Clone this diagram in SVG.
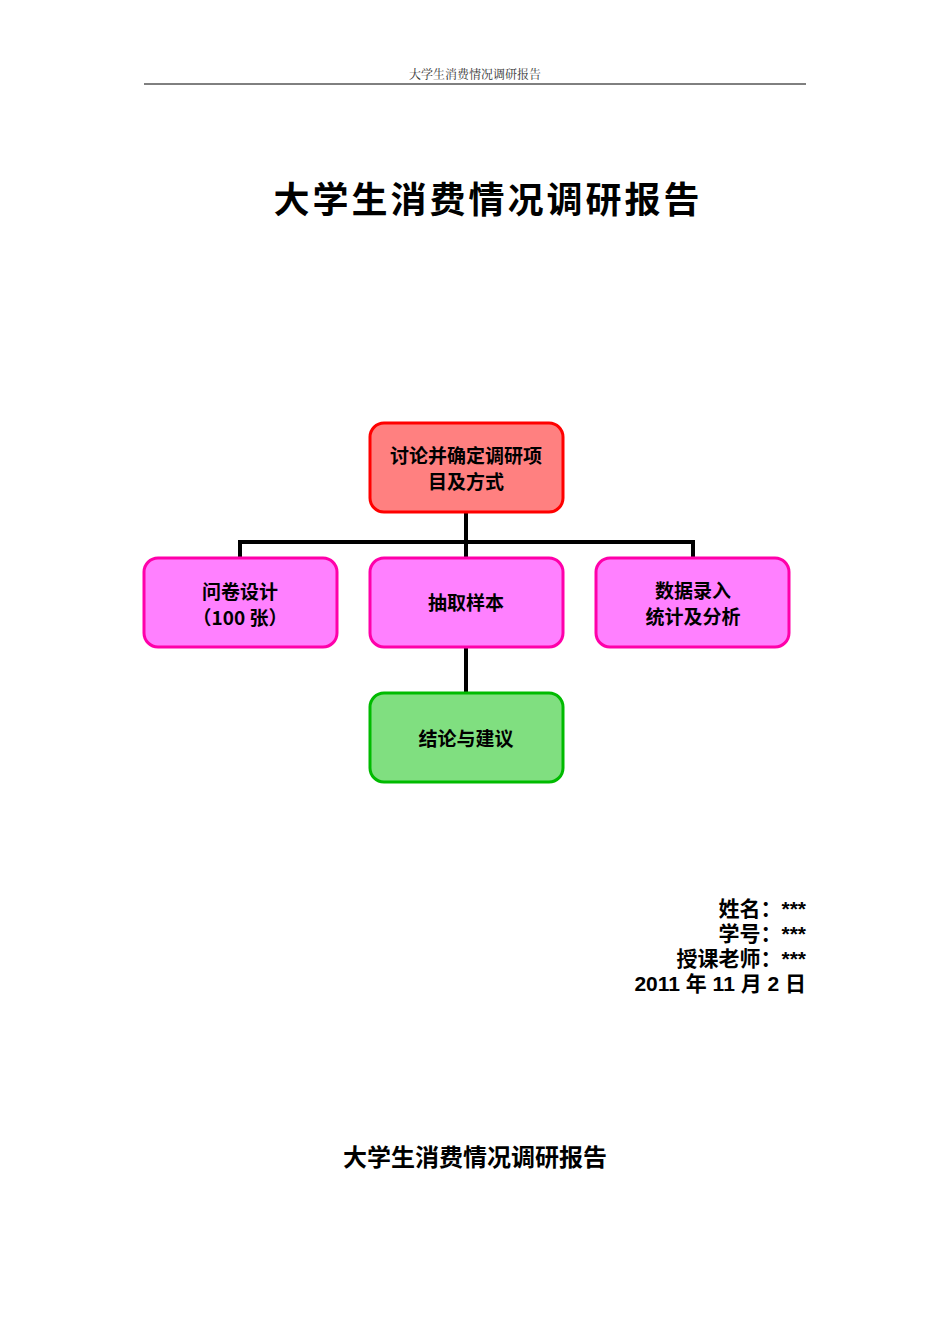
<svg xmlns="http://www.w3.org/2000/svg" width="950" height="1344" viewBox="0 0 950 1344">
<style>
.n{stroke-width:3}
.t{font-family:"Noto Sans CJK SC","Liberation Sans",sans-serif;font-weight:bold;font-size:19px;fill:#000;text-anchor:middle}
.c{fill:none;stroke:#000;stroke-width:4}
.r{font-family:"Liberation Sans","Noto Sans CJK SC",sans-serif;font-weight:bold;font-size:21px;text-anchor:end}
</style>
<rect width="950" height="1344" fill="#fff"/>
<text x="475" y="79" font-family="Noto Serif CJK SC,Noto Sans CJK SC,serif" font-size="12" text-anchor="middle" fill="#333">大学生消费情况调研报告</text>
<line x1="144" y1="84" x2="806" y2="84" stroke="#000" stroke-width="1"/>
<text x="488" y="213" font-family="Noto Sans CJK SC,sans-serif" font-weight="bold" font-size="36" text-anchor="middle" letter-spacing="3">大学生消费情况调研报告</text>
<g id="connectors">
<path class="c" d="M466 512V558M240 558V542H693V558M466 647V693"/>
</g>
<g id="n1"><rect class="n" x="370" y="423" width="193" height="89" rx="14" fill="#ff8080" stroke="#f00"/><text class="t" x="466" y="463">讨论并确定调研项</text><text class="t" x="466" y="489">目及方式</text></g>
<g id="n2"><rect class="n" x="144" y="558" width="193" height="89" rx="14" fill="#ff80ff" stroke="#f0a"/><text class="t" x="240" y="599">问卷设计</text><text class="t" x="240" y="625">（100 张）</text></g>
<g id="n3"><rect class="n" x="370" y="558" width="193" height="89" rx="14" fill="#ff80ff" stroke="#f0a"/><text class="t" x="466" y="610">抽取样本</text></g>
<g id="n4"><rect class="n" x="596" y="558" width="193" height="89" rx="14" fill="#ff80ff" stroke="#f0a"/><text class="t" x="693" y="598">数据录入</text><text class="t" x="693" y="624">统计及分析</text></g>
<g id="n5"><rect class="n" x="370" y="693" width="193" height="89" rx="14" fill="#80df80" stroke="#0b0"/><text class="t" x="466" y="746">结论与建议</text></g>
<text class="r" x="806" y="916">姓名：***</text>
<text class="r" x="806" y="941">学号：***</text>
<text class="r" x="806" y="966">授课老师：***</text>
<text class="r" x="806" y="991">2011 年 11 月 2 日</text>
<text x="475" y="1166" font-family="Noto Sans CJK SC,sans-serif" font-weight="bold" font-size="24" text-anchor="middle">大学生消费情况调研报告</text>
</svg>
